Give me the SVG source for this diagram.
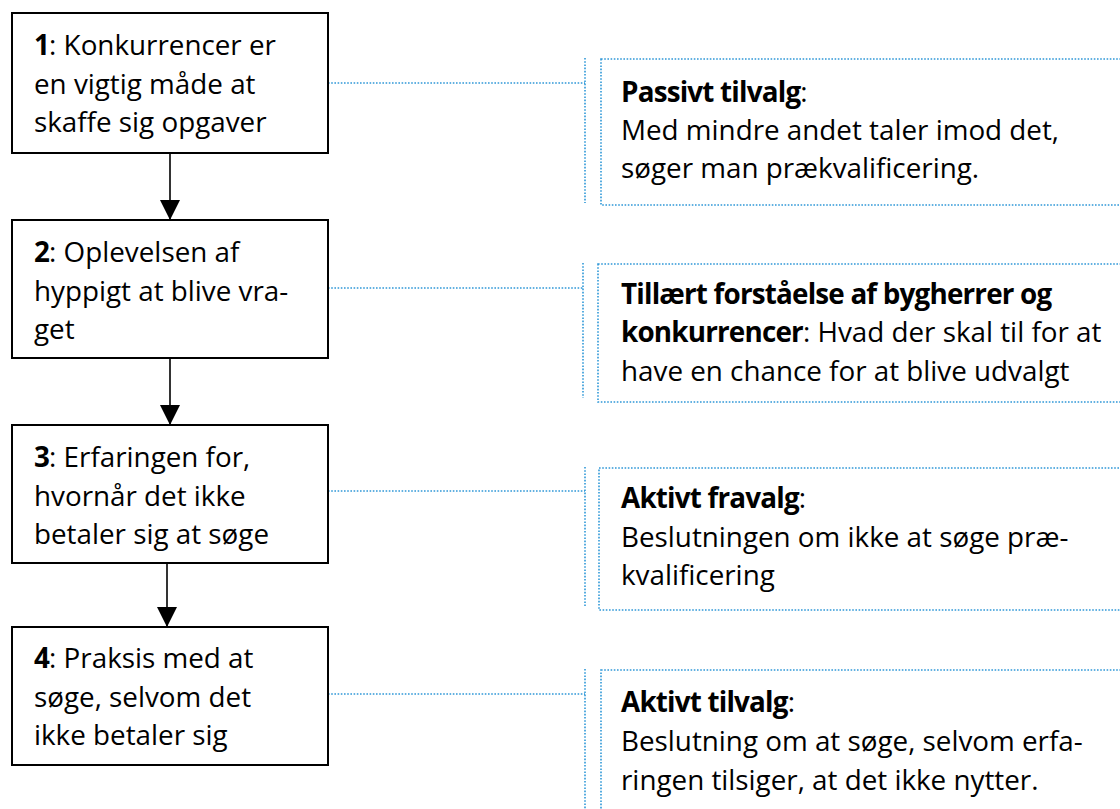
<svg xmlns="http://www.w3.org/2000/svg" width="1120" height="809" viewBox="0 0 1120 809">
<style>
.box{fill:#fff;stroke:#000;stroke-width:2}
.dot{fill:none;stroke:#2f98d8;stroke-width:1.6;stroke-dasharray:1.6 1.6}
.arr{stroke:#000;stroke-width:1.6;fill:none}
text{font-family:"Open Sans","Noto Sans",sans-serif;font-size:27.8px;fill:#000}
.b{font-weight:bold;letter-spacing:-0.8px}
</style>
<defs>
<marker id="ah" viewBox="0 0 20 20" refX="20" refY="10" markerWidth="20" markerHeight="20" markerUnits="userSpaceOnUse" orient="auto">
<path d="M0,0 L20,10 L0,20 Z" fill="#000"/>
</marker>
</defs>
<rect width="1120" height="809" fill="#fff"/>
<g id="connectors">
<line class="arr" x1="170" y1="153" x2="170" y2="220" marker-end="url(#ah)"/>
<line class="arr" x1="170" y1="358" x2="170" y2="425" marker-end="url(#ah)"/>
<line class="arr" x1="167" y1="563" x2="167" y2="627" marker-end="url(#ah)"/>
<path class="dot" d="M328,83 H585 M585,58 V203"/>
<path class="dot" d="M328,288 H583 M583,263 V398"/>
<path class="dot" d="M328,491 H585 M585,467 V606"/>
<path class="dot" d="M328,694 H585 M585,669 V809"/>
</g>
<g id="node1">
<rect class="box" x="12" y="13" width="316" height="140"/>
<text x="34" y="55"><tspan class="b">1</tspan>: Konkurrencer er</text>
<text x="34" y="94">en vigtig måde at</text>
<text x="34" y="132">skaffe sig opgaver</text>
</g>
<g id="node2">
<rect class="box" x="12" y="220" width="316" height="138"/>
<text x="34" y="262"><tspan class="b">2</tspan>: Oplevelsen af</text>
<text x="34" y="301">hyppigt at blive vra-</text>
<text x="34" y="339">get</text>
</g>
<g id="node3">
<rect class="box" x="12" y="425" width="316" height="138"/>
<text x="34" y="467"><tspan class="b">3</tspan>: Erfaringen for,</text>
<text x="34" y="506">hvornår det ikke</text>
<text x="34" y="544">betaler sig at søge</text>
</g>
<g id="node4">
<rect class="box" x="12" y="627" width="316" height="138"/>
<text x="34" y="668"><tspan class="b">4</tspan>: Praksis med at</text>
<text x="34" y="707">søge, selvom det</text>
<text x="34" y="745">ikke betaler sig</text>
</g>
<g id="noteA">
<rect class="dot" x="601" y="59" width="530" height="146"/>
<text x="621" y="102"><tspan class="b">Passivt tilvalg</tspan>:</text>
<text x="621" y="140">Med mindre andet taler imod det,</text>
<text x="621" y="178">søger man prækvalificering.</text>
</g>
<g id="noteB">
<rect class="dot" x="598" y="264" width="530" height="138"/>
<text x="621" y="304" class="b">Tillært forståelse af bygherrer og</text>
<text x="621" y="342"><tspan class="b">konkurrencer</tspan>: Hvad der skal til for at</text>
<text x="621" y="381">have en chance for at blive udvalgt</text>
</g>
<g id="noteC">
<rect class="dot" x="599" y="468" width="530" height="142"/>
<text x="621" y="508"><tspan class="b">Aktivt fravalg</tspan>:</text>
<text x="621" y="547">Beslutningen om ikke at søge præ-</text>
<text x="621" y="585">kvalificering</text>
</g>
<g id="noteD">
<rect class="dot" x="601" y="670" width="530" height="160"/>
<text x="621" y="712"><tspan class="b">Aktivt tilvalg</tspan>:</text>
<text x="621" y="751">Beslutning om at søge, selvom erfa-</text>
<text x="621" y="790">ringen tilsiger, at det ikke nytter.</text>
</g>
</svg>
